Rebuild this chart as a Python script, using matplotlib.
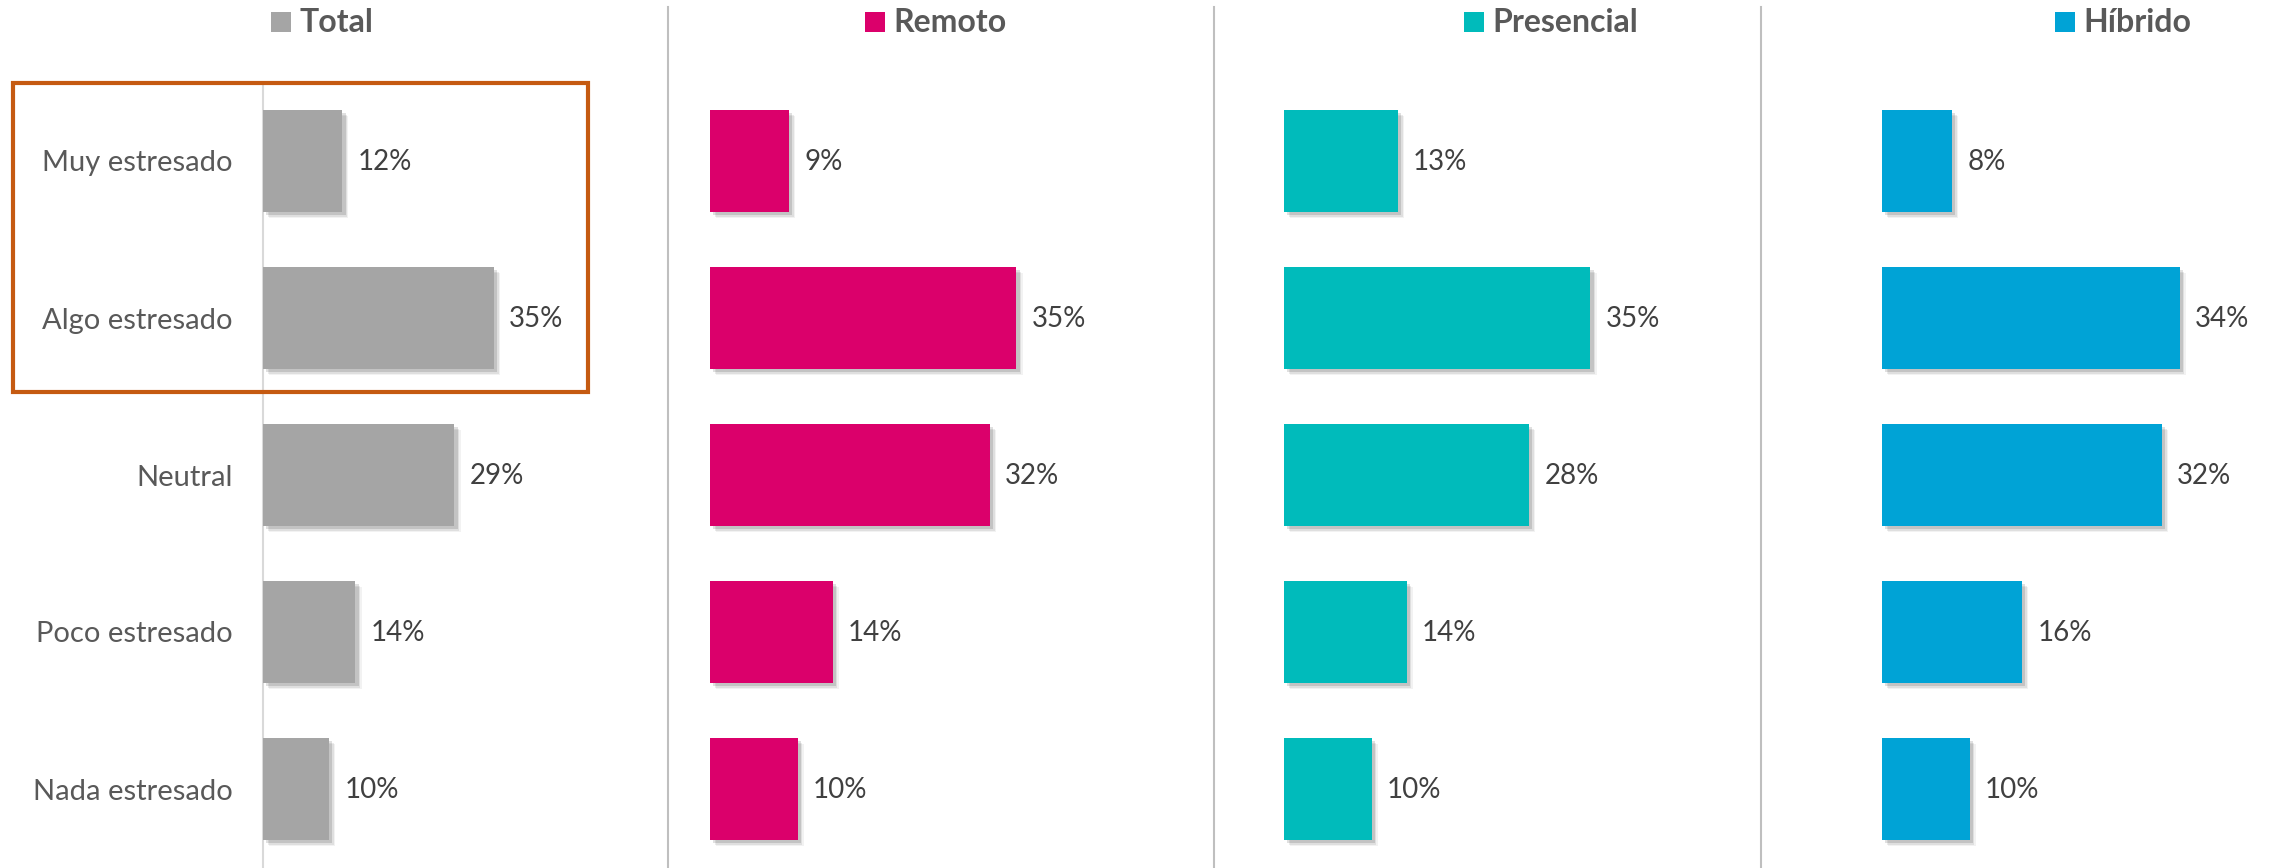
import matplotlib
matplotlib.use('Agg')
import matplotlib.pyplot as plt
import matplotlib.patheffects as pe
from matplotlib.patches import Rectangle
from matplotlib.lines import Line2D

# ─── DATOS ────────────────────────────────────────────────────────────────────
niveles = ['Muy estresado', 'Algo estresado', 'Neutral', 'Poco estresado', 'Nada estresado']

grupos = ['Total', 'Remoto', 'Presencial', 'Híbrido']

total      = [12, 35, 29, 14, 10]
remoto     = [9, 35, 32, 14, 10]
presencial = [13, 35, 28, 14, 10]
hibrido    = [8, 34, 32, 16, 10]

# ─── ESTILO ───────────────────────────────────────────────────────────────────
W, H = 2275, 868
COLORES = ['#A5A5A5', '#DB006B', '#00BBBB', '#00A3D6']
GRIS_TXT = '#595959'
GRIS_VAL = '#404040'
FUENTE = 'Lato'

plt.rcParams['font.family'] = [FUENTE, 'DejaVu Sans']


def caja(x0, y0, x1, y1):
    """Convierte una caja en píxeles (origen arriba-izq) a coords de figura."""
    return [x0 / W, 1 - y1 / H, (x1 - x0) / W, (y1 - y0) / H]


# sombra difusa: varias capas desplazadas con poca opacidad
sombra = [
    pe.SimplePatchShadow(offset=(4.5, -4.5), shadow_rgbFace='k', alpha=0.05),
    pe.SimplePatchShadow(offset=(3.5, -3.5), shadow_rgbFace='k', alpha=0.08),
    pe.SimplePatchShadow(offset=(2.5, -2.5), shadow_rgbFace='k', alpha=0.12),
    pe.Normal(),
]

fig = plt.figure(figsize=(W / 100, H / 100), dpi=100)
fig.patch.set_facecolor('white')

# (x inicio del eje en px, límite x)
paneles = [
    (263, 50),
    (710, 40),
    (1284, 40),
    (1882, 40),
]
anchos = {50: 330, 40: 350}
valores = [total, remoto, presencial, hibrido]

TOP, BOTTOM = 82.5, 867.5

for i, ((x0, xmax), vals, color) in enumerate(zip(paneles, valores, COLORES)):
    ax = fig.add_axes(caja(x0, TOP, x0 + anchos[xmax], BOTTOM))
    y = list(range(len(niveles)))
    bars = ax.barh(y, vals, height=0.65, color=color, zorder=3)
    for b in bars:
        b.set_path_effects(sombra)
    for yi, v in zip(y, vals):
        ax.annotate(f'{v}%', xy=(v, yi), xytext=(11, -1), textcoords='offset points',
                    ha='left', va='center', fontsize=20, color=GRIS_VAL)
    ax.set_xlim(0, xmax)
    ax.set_ylim(len(niveles) - 0.5, -0.5)
    ax.set_xticks([])
    for s in ['top', 'right', 'bottom']:
        ax.spines[s].set_visible(False)
    if i == 0:
        ax.spines['left'].set_color('#D9D9D9')
        ax.spines['left'].set_linewidth(1.5)
        ax.set_yticks(y)
        ax.set_yticklabels(niveles, fontsize=21, color=GRIS_TXT)
        ax.tick_params(axis='y', length=0, pad=22)
    else:
        ax.spines['left'].set_visible(False)
        ax.set_yticks([])

# ─── TÍTULOS (tipo leyenda) ───────────────────────────────────────────────────
titulos_x = [271, 865, 1464, 2055]
for nombre, color, xt in zip(grupos, COLORES, titulos_x):
    fig.patches.append(Rectangle((xt / W, 1 - 32 / H), 20 / W, 20 / H,
                                 transform=fig.transFigure, facecolor=color,
                                 edgecolor='none'))
    fig.text((xt + 28) / W, 1 - 23 / H, nombre, fontsize=23, fontweight='bold',
             color=GRIS_TXT, ha='left', va='center')

# ─── SEPARADORES ──────────────────────────────────────────────────────────────
for xd in [668, 1214, 1761]:
    fig.lines.append(Line2D([xd / W, xd / W], [0, 1 - 7 / H], transform=fig.transFigure,
                            color='#BFBFBF', linewidth=1.5))

# Recuadro de resaltado (estresados)
fig.patches.append(Rectangle((13 / W, 1 - 392 / H), 575 / W, 309 / H,
                             transform=fig.transFigure, fill=False,
                             edgecolor='#C55A11', linewidth=3))

plt.savefig('out.png', dpi=100)
plt.close()
